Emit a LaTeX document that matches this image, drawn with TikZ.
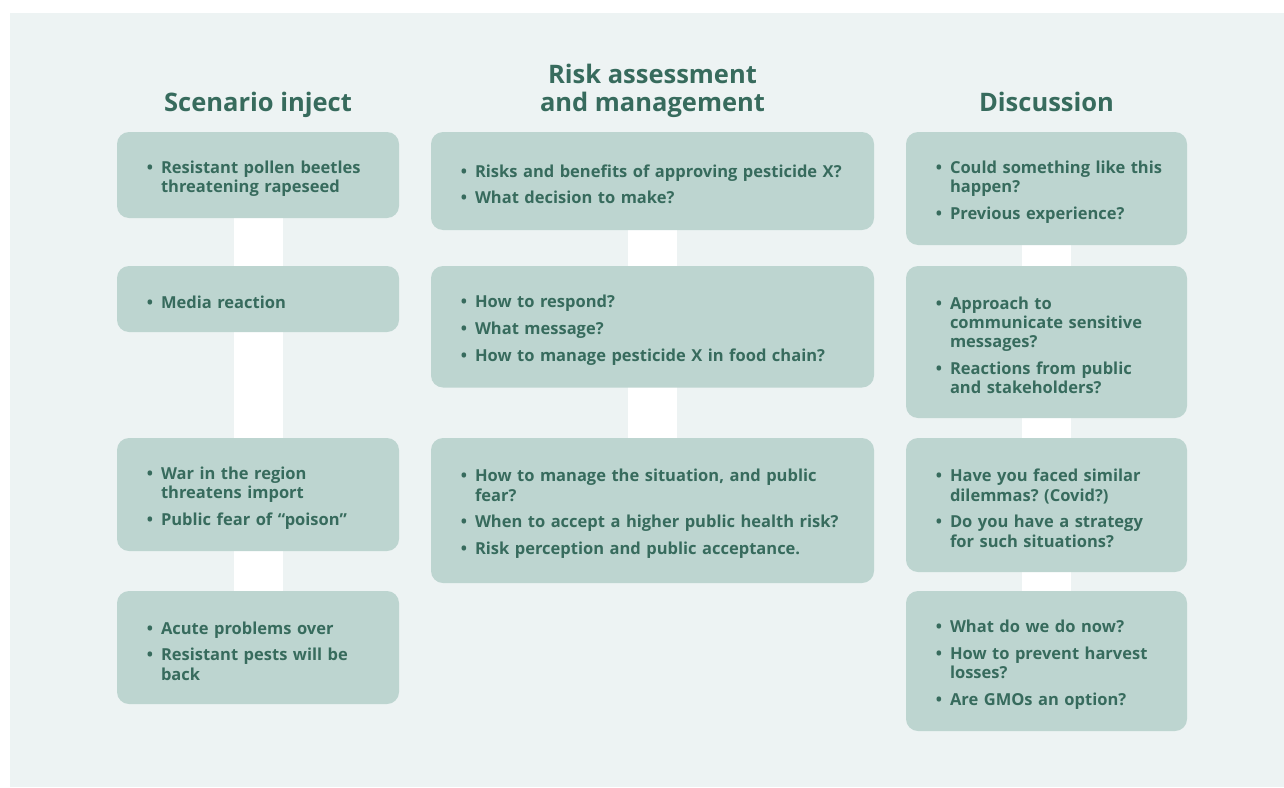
\documentclass[tikz,border=0pt]{standalone}
\usepackage{fontspec}
\setmainfont{Open Sans}
\usepackage{enumitem}
\setlist[itemize]{nosep, leftmargin=15pt, labelsep=8pt, rightmargin=-20pt,
  itemsep=7.4pt, label=\textbullet}
\frenchspacing

\definecolor{panelbg}{HTML}{EDF3F3}
\definecolor{boxfill}{HTML}{BDD5D0}
\definecolor{inkgreen}{HTML}{376B5D}

\pgfdeclarelayer{bars}
\pgfsetlayers{bars,main}

\begin{document}
\begin{tikzpicture}[
    x=1pt, y=-1pt,
    heading/.style={anchor=base, align=center, text=inkgreen, inner sep=0pt,
      font=\fontsize{25.5}{28}\selectfont\bfseries},
    box/.style={fill=boxfill, rounded corners=12pt, inner xsep=29pt, inner ysep=0pt,
      align=left, text=inkgreen, font=\fontsize{16.5}{19.3}\selectfont\bfseries},
    leftbox/.style={box, minimum width=282pt, text width=224pt},
    midbox/.style={box, minimum width=443pt, text width=385pt},
    rightbox/.style={box, minimum width=281pt, text width=223pt},
    bar/.style={line width=49pt, white}
]

% Panel
\begin{pgfonlayer}{bars}
  \fill[white] (0,0) rectangle (1284,787);
  \fill[panelbg] (10,13) rectangle (1284,787);
\end{pgfonlayer}
\useasboundingbox (0,0) rectangle (1284,787);

% Headings
\node[heading] (Inject) at (258,111) {Scenario inject};
\node[heading] (Risk) at (652.5,111) {Risk assessment\\and management};
\node[heading] (Disc) at (1046.5,111) {Discussion};

% Scenario inject
\node[leftbox, minimum height=86pt] (S1) at (258,175) {\begin{itemize}
  \item Resistant pollen beetles\newline threatening rapeseed
\end{itemize}};
\node[leftbox, minimum height=66pt] (S2) at (258,299) {\begin{itemize}
  \item Media reaction
\end{itemize}};
\node[leftbox, minimum height=113pt] (S3) at (258,494.5) {\begin{itemize}
  \item War in the region\newline threatens import
  \item Public fear of “poison”
\end{itemize}};
\node[leftbox, minimum height=113pt] (S4) at (258,647.5) {\begin{itemize}
  \item Acute problems over
  \item Resistant pests will be\newline back
\end{itemize}};

% Risk assessment and management
\node[midbox, minimum height=98pt] (R1) at (652.5,181) {\begin{itemize}
  \item Risks and benefits of approving pesticide X?
  \item What decision to make?
\end{itemize}};
\node[midbox, minimum height=121.5pt] (R2) at (652.5,326.75) {\begin{itemize}
  \item How to respond?
  \item What message?
  \item How to manage pesticide X in food chain?
\end{itemize}};
\node[midbox, minimum height=145pt] (R3) at (652.5,510.5) {\begin{itemize}
  \item How to manage the situation, and public\newline fear?
  \item When to accept a higher public health risk?
  \item Risk perception and public acceptance.
\end{itemize}};

% Discussion
\node[rightbox, minimum height=113pt] (D1) at (1046.5,188.5) {\begin{itemize}
  \item Could something like this\newline happen?
  \item Previous experience?
\end{itemize}};
\node[rightbox, minimum height=152pt] (D2) at (1046.5,342) {\begin{itemize}
  \item Approach to\newline communicate sensitive\newline messages?
  \item Reactions from public\newline and stakeholders?
\end{itemize}};
\node[rightbox, minimum height=134pt] (D3) at (1046.5,505) {\begin{itemize}
  \item Have you faced similar\newline dilemmas? (Covid?)
  \item Do you have a strategy\newline for such situations?
\end{itemize}};
\node[rightbox, minimum height=140pt] (D4) at (1046.5,661) {\begin{itemize}
  \item What do we do now?
  \item How to prevent harvest\newline losses?
  \item Are GMOs an option?
\end{itemize}};

% Bars behind the boxes
\begin{pgfonlayer}{bars}
  \draw[bar] (S1.south) -- (S4.north);
  \draw[bar] (R1.south) -- (R3.north);
  \draw[bar] (D1.south) -- (D4.north);
\end{pgfonlayer}

\end{tikzpicture}
\end{document}
